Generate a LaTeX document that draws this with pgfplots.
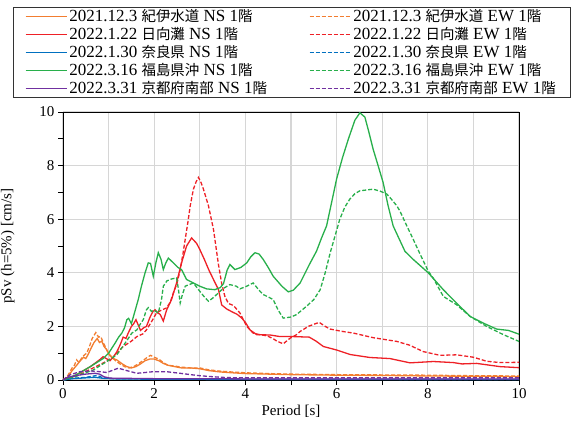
\documentclass[border=0pt]{standalone}
\usepackage{fontspec}
\setmainfont{Liberation Serif}
\newfontfamily\jp[Scale=0.85]{Noto Sans CJK JP}
\usepackage{pgfplots}
\pgfplotsset{compat=1.18}

\definecolor{cor}{RGB}{242,125,48}
\definecolor{cre}{RGB}{238,32,38}
\definecolor{cbl}{RGB}{0,112,192}
\definecolor{cgr}{RGB}{40,175,75}
\definecolor{cpu}{RGB}{112,48,160}

\begin{document}
\begin{tikzpicture}
\begin{axis}[
    scale only axis, width=456pt, height=268pt,
    xmin=0, xmax=10, ymin=0, ymax=10,
    xtick={0,2,...,10}, minor xtick={1,3,...,9},
    ytick={0,2,...,10}, minor ytick={1,3,...,9},
    xmajorgrids, xminorgrids, ymajorgrids,
    grid style={line width=1.1pt, black!16},
    minor grid style={line width=1.1pt, black!16},
    tick align=outside, tick pos=left,
    major tick length=5pt, minor tick length=5pt,
    tick style={black, line width=0.7pt},
    axis line style={black, line width=0.9pt},
    ticklabel style={font=\fontsize{15}{18}\selectfont},
    label style={font=\fontsize{15}{18}\selectfont},
    /pgf/number format/assume math mode=true,
    xlabel={Period [s]},
    ylabel={pSv (h=5\%) [cm/s]},
    ylabel style={at={(axis description cs:-0.106,0.5)}, anchor=south, inner sep=0pt},
    legend columns=2,
    legend cell align=left,
    legend style={at={(axis description cs:-0.110,1.390)}, anchor=north west,
        draw=black!80, font=\fontsize{17}{19}\selectfont,
        inner xsep=12pt, inner ysep=0pt,
        nodes={inner xsep=2pt, inner ysep=1.5pt, text height=12pt, text depth=3pt},
        /tikz/every even column/.append style={column sep=40pt}},
    legend image code/.code={\draw[line width=1.3pt,#1] (0pt,0pt) -- (41pt,0pt);},
    every axis plot/.append style={line width=1.3pt},
]
% 2021.12.3
\addplot[cor] coordinates {
(0,0) (0.1,0.1) (0.2,0.35) (0.3,0.55) (0.37,0.7) (0.45,0.85) (0.5,0.8) (0.55,0.95)
(0.62,1.2) (0.68,1.4) (0.75,1.55) (0.8,1.4) (0.85,1.45) (0.9,1.25) (0.95,1.15)
(1.03,0.9) (1.1,0.8) (1.18,0.75) (1.3,0.6) (1.4,0.5) (1.5,0.45) (1.6,0.5) (1.7,0.6)
(1.8,0.72) (1.9,0.78) (2.0,0.78) (2.1,0.72) (2.2,0.62) (2.3,0.55) (2.45,0.5)
(2.6,0.45) (2.8,0.45) (3.0,0.42) (3.2,0.35) (3.45,0.3) (3.7,0.27) (4.0,0.24)
(4.5,0.22) (5,0.2) (6,0.18) (7,0.17) (8,0.15) (9,0.14) (10,0.13)};
\addlegendentry{2021.12.3 {\jp 紀伊水道} NS 1{\jp 階}}
\addplot[cor, dash pattern=on 4pt off 2pt] coordinates {
(0,0) (0.1,0.15) (0.2,0.45) (0.25,0.55) (0.3,0.75) (0.35,0.65) (0.42,0.85) (0.48,0.95)
(0.52,1.0) (0.58,1.25) (0.64,1.55) (0.72,1.77) (0.78,1.6) (0.83,1.62) (0.88,1.4)
(0.94,1.2) (1.0,0.98) (1.08,0.85) (1.15,0.72) (1.25,0.6) (1.35,0.5) (1.45,0.45)
(1.55,0.5) (1.65,0.6) (1.75,0.72) (1.85,0.85) (1.92,0.92) (2.0,0.85) (2.1,0.78)
(2.2,0.65) (2.3,0.55) (2.45,0.52) (2.6,0.48) (2.8,0.45) (3.0,0.45) (3.2,0.38)
(3.45,0.33) (3.7,0.3) (4.0,0.27) (4.5,0.24) (5,0.22) (6,0.2) (7,0.19) (8,0.18)
(9,0.16) (10,0.15)};
\addlegendentry{2021.12.3 {\jp 紀伊水道} EW 1{\jp 階}}
% 2022.1.22
\addplot[cre] coordinates {
(0,0) (0.2,0.1) (0.4,0.3) (0.6,0.5) (0.8,0.75) (0.88,0.87) (0.95,0.8) (1.03,0.72)
(1.1,0.85) (1.18,1.05) (1.25,1.3) (1.32,1.6) (1.38,1.55) (1.43,1.75) (1.5,2.0)
(1.55,2.1) (1.6,2.25) (1.65,2.05) (1.7,1.85) (1.77,1.95) (1.83,2.0) (1.91,2.35)
(1.97,2.55) (2.02,2.62) (2.08,2.5) (2.13,2.45) (2.2,2.2) (2.27,2.6) (2.38,3.0)
(2.49,3.62) (2.6,4.37) (2.71,5.0) (2.82,5.3) (2.93,5.1) (3.0,4.87) (3.1,4.5)
(3.2,4.1) (3.3,3.75) (3.41,3.37) (3.48,2.8) (3.59,2.65) (3.7,2.55) (3.82,2.45)
(3.92,2.31) (4.0,2.15) (4.1,1.87) (4.25,1.69) (4.54,1.68) (4.76,1.62) (5.05,1.62)
(5.4,1.6) (5.55,1.45) (5.71,1.25) (6.0,1.12) (6.3,0.95) (6.73,0.84) (7.17,0.8)
(7.61,0.64) (8.12,0.69) (8.56,0.65) (8.75,0.6) (9.07,0.62) (9.58,0.5) (10,0.46)};
\addlegendentry{2022.1.22 {\jp 日向灘} NS 1{\jp 階}}
\addplot[cre, dash pattern=on 4pt off 2pt] coordinates {
(0,0) (0.3,0.15) (0.6,0.4) (0.9,0.65) (1.1,0.85) (1.32,1.25) (1.5,1.45) (1.62,1.62)
(1.75,1.72) (1.83,1.87) (1.95,2.2) (2.05,2.5) (2.15,2.6) (2.27,2.69) (2.35,2.9)
(2.42,3.25) (2.5,3.6) (2.57,4.12) (2.63,4.7) (2.68,5.25) (2.74,5.9) (2.79,6.5)
(2.86,7.12) (2.92,7.4) (2.97,7.56) (3.02,7.4) (3.08,7.12) (3.19,6.5) (3.3,5.62)
(3.41,4.3) (3.48,3.6) (3.55,3.12) (3.63,2.85) (3.7,2.81) (3.77,2.72) (3.88,2.5)
(4.03,2.0) (4.17,1.75) (4.32,1.69) (4.47,1.65) (4.6,1.55) (4.69,1.45) (4.83,1.35)
(4.98,1.56) (5.12,1.69) (5.2,1.81) (5.38,2.0) (5.5,2.08) (5.62,2.15) (5.75,2.0)
(5.86,1.9) (6.1,1.82) (6.37,1.75) (6.8,1.58) (7.32,1.44) (7.6,1.3) (7.9,1.06)
(8.27,0.92) (8.63,0.94) (9.0,0.85) (9.29,0.7) (9.58,0.65) (10,0.66)};
\addlegendentry{2022.1.22 {\jp 日向灘} EW 1{\jp 階}}
% 2022.1.30
\addplot[cbl] coordinates {
(0,0) (0.2,0.05) (0.5,0.08) (0.7,0.1) (0.9,0.06) (1.2,0.04) (2,0.03) (4,0.02) (10,0.02)};
\addlegendentry{2022.1.30 {\jp 奈良県} NS 1{\jp 階}}
\addplot[cbl, dash pattern=on 4pt off 2pt] coordinates {
(0,0) (0.2,0.06) (0.5,0.1) (0.75,0.17) (0.85,0.1) (1.1,0.05) (2,0.04) (4,0.03) (10,0.02)};
\addlegendentry{2022.1.30 {\jp 奈良県} EW 1{\jp 階}}
% 2022.3.16
\addplot[cgr] coordinates {
(0,0) (0.3,0.2) (0.6,0.5) (0.88,0.8) (1.0,1.0) (1.14,1.37) (1.22,1.6) (1.29,1.75)
(1.35,1.95) (1.4,2.25) (1.44,2.3) (1.5,2.1) (1.55,2.4) (1.65,3.0) (1.72,3.5)
(1.8,4.0) (1.87,4.37) (1.92,4.35) (1.98,3.87) (2.04,4.4) (2.09,4.75) (2.15,4.5)
(2.2,4.12) (2.25,4.35) (2.31,4.55) (2.42,4.37) (2.52,4.2) (2.6,4.12) (2.71,3.75)
(2.86,3.62) (3.0,3.5) (3.15,3.4) (3.33,3.37) (3.45,3.45) (3.52,3.6) (3.6,4.1)
(3.66,4.31) (3.77,4.12) (3.9,4.2) (4.03,4.37) (4.12,4.6) (4.21,4.75) (4.3,4.7)
(4.39,4.5) (4.5,4.2) (4.61,3.87) (4.8,3.5) (4.94,3.29) (5.05,3.35) (5.2,3.62)
(5.4,4.3) (5.56,4.81) (5.67,5.3) (5.78,5.75) (5.9,6.7) (6.0,7.5) (6.13,8.3)
(6.26,9.0) (6.4,9.69) (6.51,9.97) (6.62,9.81) (6.7,9.3) (6.8,8.62) (6.91,8.0)
(7.02,7.37) (7.13,6.5) (7.24,5.75) (7.39,5.2) (7.5,4.8) (7.68,4.5) (8.01,4.0)
(8.34,3.37) (8.63,2.87) (8.93,2.37) (9.22,2.12) (9.51,1.9) (9.77,1.85) (10,1.71)};
\addlegendentry{2022.3.16 {\jp 福島県沖} NS 1{\jp 階}}
\addplot[cgr, dash pattern=on 4pt off 2pt] coordinates {
(0,0) (0.3,0.15) (0.66,0.37) (0.96,0.69) (1.18,0.94) (1.36,1.37) (1.51,1.75)
(1.62,1.87) (1.7,2.1) (1.76,2.25) (1.83,2.62) (1.87,2.7) (1.94,2.56) (2.0,2.6)
(2.09,2.5) (2.16,3.0) (2.2,3.5) (2.28,3.7) (2.38,3.77) (2.49,3.81) (2.53,3.4)
(2.57,2.87) (2.62,3.2) (2.68,3.5) (2.75,3.55) (2.86,3.62) (3.0,3.31) (3.1,3.1)
(3.19,2.94) (3.28,3.05) (3.37,3.19) (3.5,3.4) (3.66,3.56) (3.8,3.5) (3.88,3.4)
(4.03,3.5) (4.17,3.62) (4.3,3.35) (4.39,3.19) (4.5,3.1) (4.61,3.0) (4.72,2.6)
(4.83,2.31) (5.0,2.35) (5.12,2.44) (5.34,2.75) (5.5,3.0) (5.64,3.37) (5.75,4.0)
(5.86,4.75) (5.97,5.4) (6.07,6.0) (6.18,6.45) (6.29,6.75) (6.4,6.95) (6.51,7.06)
(6.8,7.12) (6.95,7.05) (7.1,6.94) (7.2,6.75) (7.32,6.5) (7.39,6.3) (7.54,5.75)
(7.68,5.25) (7.83,4.7) (8.01,4.06) (8.12,3.8) (8.34,3.12) (8.63,2.81) (8.93,2.37)
(9.29,2.0) (9.66,1.69) (10,1.44)};
\addlegendentry{2022.3.16 {\jp 福島県沖} EW 1{\jp 階}}
% 2022.3.31
\addplot[cpu] coordinates {
(0,0) (0.1,0.1) (0.3,0.17) (0.5,0.22) (0.7,0.25) (0.8,0.22) (0.9,0.12) (1.03,0.07)
(1.5,0.06) (2,0.05) (3,0.05) (4,0.04) (6,0.04) (8,0.04) (10,0.04)};
\addlegendentry{2022.3.31 {\jp 京都府南部} NS 1{\jp 階}}
\addplot[cpu, dash pattern=on 4pt off 2pt] coordinates {
(0,0) (0.15,0.19) (0.37,0.31) (0.59,0.34) (0.81,0.31) (0.96,0.28) (1.1,0.37)
(1.21,0.44) (1.3,0.4) (1.4,0.35) (1.62,0.25) (1.8,0.28) (1.98,0.31) (2.27,0.31)
(2.57,0.25) (2.8,0.2) (3.0,0.16) (3.3,0.12) (3.59,0.09) (4,0.08) (5,0.08) (6,0.08)
(7,0.08) (8,0.08) (9,0.08) (10,0.08)};
\addlegendentry{2022.3.31 {\jp 京都府南部} EW 1{\jp 階}}
\coordinate (sw) at (rel axis cs:0,0);
\coordinate (ne) at (rel axis cs:1,1);
\end{axis}
\pgfresetboundingbox
\path[use as bounding box] ([xshift=-63pt,yshift=-41pt]sw) rectangle ([xshift=54pt,yshift=112pt]ne);
\end{tikzpicture}
\end{document}
